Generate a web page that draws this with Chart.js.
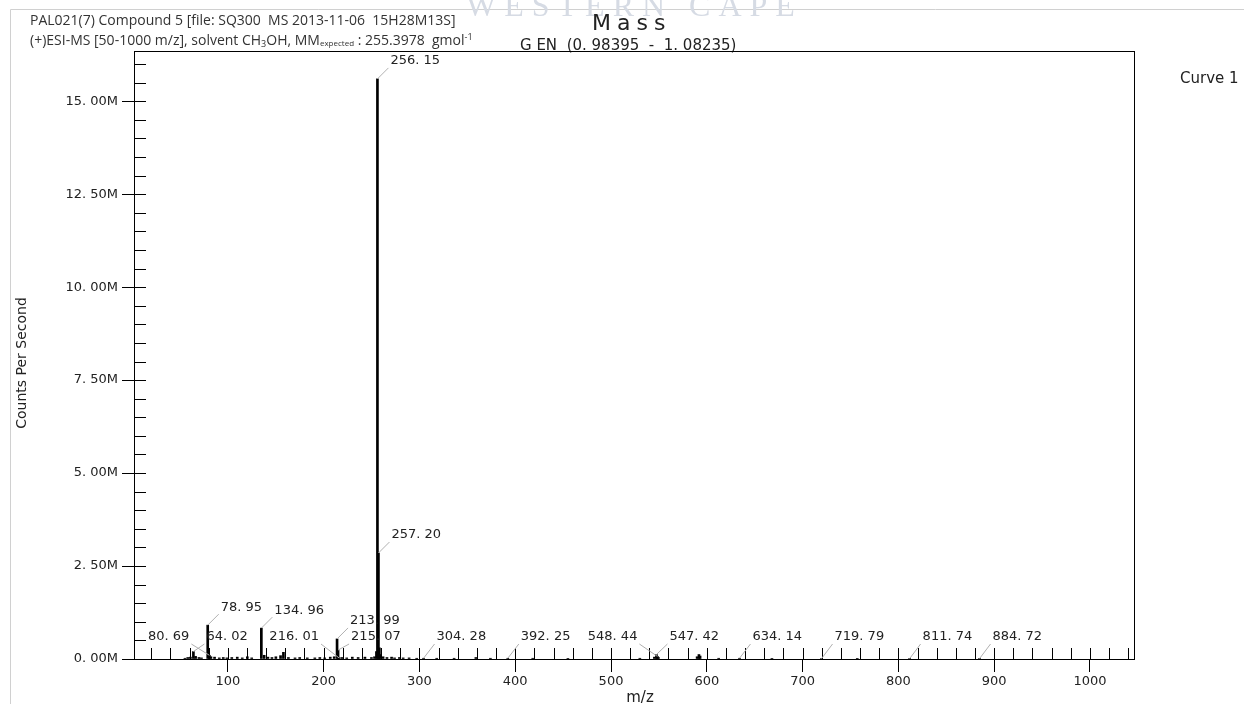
<!DOCTYPE html>
<html>
<head>
<meta charset="utf-8">
<script src="https://cdn.jsdelivr.net/npm/chart.js@4.4.1/dist/chart.umd.min.js"></script>
<style>
  html, body { margin: 0; padding: 0; background: #fff; }
  #wrap { width: 1244px; height: 704px; }
</style>
</head>
<body>
<div id="wrap"><canvas id="ms" width="1244" height="704"></canvas></div>
<script>
// labelled peaks: m/z and counts per second
const peakMz = [64.02, 78.95, 80.69, 134.96, 213.99, 215.07, 216.01, 256.15, 257.20, 304.28, 392.25, 547.42, 548.44, 634.14, 719.79, 811.74, 884.72];
const peakCounts = [0.20e6, 0.91e6, 0.10e6, 0.83e6, 0.54e6, 0.24e6, 0.03e6, 15.60e6, 2.85e6, 0.02e6, 0.02e6, 0.12e6, 0.07e6, 0.02e6, 0.01e6, 0.01e6, 0.01e6];
// which side of the peak the software put the label on
const labelSide = ['r', 'r', 'l', 'r', 'r', 'r', 'l', 'r', 'r', 'r', 'r', 'r', 'l', 'r', 'r', 'r', 'r'];

// small unlabelled lines near the baseline
const minorMz = [55.2, 58.1, 60.9, 66.3, 69.8, 72.4, 82.3, 86.1, 91.0, 95.2, 99.0, 104.1, 109.8, 115.0, 120.3, 124.9,
  137.9, 141.8, 146.0, 150.1, 155.0, 158.0, 163.2, 170.1, 175.0, 182.9, 190.8, 196.0, 201.1, 206.9, 211.0, 218.9,
  224.1, 229.9, 236.0, 243.1, 249.9, 253.1, 255.1, 258.2, 259.2, 262.0, 266.1, 270.9, 274.0, 279.1, 283.0, 289.2,
  297.1, 318.0, 336.2, 358.9, 374.1, 418.3, 455.0, 530.1, 545.3, 549.5, 589.9, 591.8, 593.0, 612.4, 668.0, 757.1];
const minorCounts = [0.02e6, 0.04e6, 0.05e6, 0.07e6, 0.04e6, 0.03e6, 0.06e6, 0.05e6, 0.03e6, 0.04e6, 0.03e6, 0.04e6, 0.05e6, 0.03e6, 0.06e6, 0.03e6,
  0.10e6, 0.05e6, 0.04e6, 0.06e6, 0.09e6, 0.18e6, 0.04e6, 0.03e6, 0.04e6, 0.03e6, 0.03e6, 0.04e6, 0.03e6, 0.05e6, 0.06e6, 0.04e6,
  0.03e6, 0.05e6, 0.04e6, 0.05e6, 0.04e6, 0.06e6, 0.20e6, 0.30e6, 0.12e6, 0.06e6, 0.04e6, 0.05e6, 0.03e6, 0.04e6, 0.03e6, 0.03e6,
  0.02e6, 0.02e6, 0.02e6, 0.04e6, 0.02e6, 0.02e6, 0.01e6, 0.02e6, 0.05e6, 0.04e6, 0.06e6, 0.12e6, 0.08e6, 0.02e6, 0.01e6, 0.01e6];

const xTickValues = [100, 200, 300, 400, 500, 600, 700, 800, 900, 1000];
const xTickLabels = ['100', '200', '300', '400', '500', '600', '700', '800', '900', '1000'];
const yTickValues = [0, 2.5e6, 5e6, 7.5e6, 10e6, 12.5e6, 15e6];
const yTickLabels = ['0. 00M', '2. 50M', '5. 00M', '7. 50M', '10. 00M', '12. 50M', '15. 00M'];

const FONT = 'DejaVu Sans';

const points = peakMz.map((x, i) => ({ x: x, y: peakCounts[i] }))
  .concat(minorMz.map((x, i) => ({ x: x, y: minorCounts[i] })))
  .sort((a, b) => a.x - b.x);

// draw a run of text pieces, some of them sub/superscript
function richText(ctx, x, y, parts) {
  parts.forEach(p => {
    ctx.font = (p.size || 14) + 'px "Open Sans"';
    ctx.fillText(p.t, x, y + (p.dy || 0));
    x += ctx.measureText(p.t).width;
  });
}

const decor = {
  id: 'decor',
  afterDraw(chart) {
    const ctx = chart.ctx;
    const area = chart.chartArea;
    const xs = chart.scales.x, ys = chart.scales.y;
    ctx.save();

    // page frame
    ctx.strokeStyle = '#d0d0d0';
    ctx.lineWidth = 1;
    ctx.beginPath();
    ctx.moveTo(10.5, 704); ctx.lineTo(10.5, 9.5); ctx.lineTo(1244, 9.5);
    ctx.stroke();

    // watermark
    ctx.fillStyle = '#d6dbe4';
    ctx.font = '32px "Liberation Serif"';
    ctx.letterSpacing = '8px';
    ctx.textBaseline = 'alphabetic';
    ctx.fillText('WESTERN CAPE', 466, 16);
    ctx.letterSpacing = '0px';

    // header
    ctx.fillStyle = '#333';
    richText(ctx, 30, 25, [{ t: 'PAL021(7) Compound 5 [file: SQ300  MS 2013-11-06  15H28M13S]' }]);
    richText(ctx, 30, 45, [
      { t: '(+)ESI-MS [50-1000 m/z], solvent CH' }, { t: '3', size: 9, dy: 2 },
      { t: 'OH, MM' }, { t: 'expected', size: 8, dy: 1 },
      { t: ' : 255.3978  gmol' }, { t: '-1', size: 9, dy: -5 }
    ]);

    // titles
    ctx.fillStyle = '#222';
    ctx.font = '22px ' + FONT;
    ctx.letterSpacing = '6px';
    ctx.fillText('Mass', 592, 30);
    ctx.letterSpacing = '0px';
    ctx.font = '15px ' + FONT;
    ctx.fillText('G EN  (0. 98395  -  1. 08235)', 520, 50);
    ctx.font = '15px ' + FONT;
    ctx.fillText('Curve 1', 1180, 83);
    ctx.textAlign = 'center';
    ctx.font = '15px ' + FONT;
    ctx.fillText('m/z', 640, 702);
    ctx.save();
    ctx.translate(26, 363);
    ctx.rotate(-Math.PI / 2);
    ctx.font = '14px ' + FONT;
    ctx.fillText('Counts Per Second', 0, 0);
    ctx.restore();
    ctx.textAlign = 'left';

    // plot box
    ctx.strokeStyle = '#000';
    ctx.strokeRect(area.left + 0.5, area.top + 0.5, area.right - area.left, area.bottom - area.top);

    // inward ticks
    ctx.beginPath();
    for (let v = 20; v <= xs.max; v += 20) {
      const px = Math.round(xs.getPixelForValue(v)) + 0.5;
      ctx.moveTo(px, area.bottom); ctx.lineTo(px, area.bottom - 11);
    }
    for (let v = 0.5e6; v <= ys.max; v += 0.5e6) {
      const py = Math.round(ys.getPixelForValue(v)) + 0.5;
      ctx.moveTo(area.left, py); ctx.lineTo(area.left + 12, py);
    }
    ctx.stroke();

    // peak labels with leader lines
    ctx.font = '13px ' + FONT;
    ctx.textBaseline = 'middle';
    peakMz.forEach((mz, i) => {
      const px = xs.getPixelForValue(mz);
      const py = ys.getPixelForValue(peakCounts[i]);
      const txt = mz.toFixed(2).replace('.', '. ');
      const w = ctx.measureText(txt).width;
      const cy = py > 645 ? 637 : py - 18;
      let lx, ax;
      if (labelSide[i] === 'r') { lx = px + 13; ax = lx - 2; }
      else { lx = px - 20 - w; ax = lx + w + 2; }
      ctx.strokeStyle = '#b0b0b0';
      ctx.beginPath();
      ctx.moveTo(px, py); ctx.lineTo(ax, cy + 7);
      ctx.stroke();
      ctx.fillStyle = '#222';
      ctx.fillText(txt, lx, cy);
    });
    ctx.restore();
  }
};

new Chart(document.getElementById('ms'), {
  type: 'bar',
  data: {
    datasets: [{
      label: 'Curve 1',
      data: points,
      backgroundColor: '#000',
      borderWidth: 0,
      barThickness: 2
    }]
  },
  options: {
    responsive: false,
    animation: false,
    devicePixelRatio: 1,
    layout: { padding: { left: 0, top: 51, right: 110, bottom: 0 } },
    plugins: { legend: { display: false }, tooltip: { enabled: false } },
    scales: {
      x: {
        type: 'linear',
        min: 2,
        max: 1046,
        offset: false,
        grid: { drawOnChartArea: false, drawTicks: true, tickLength: 13, color: '#000', offset: false },
        border: { display: true, color: '#000' },
        ticks: {
          font: { family: FONT, size: 13 },
          color: '#222',
          padding: 2,
          maxRotation: 0,
          autoSkip: false,
          callback: (v, i) => xTickLabels[i]
        },
        afterBuildTicks: s => { s.ticks = xTickValues.map(v => ({ value: v })); },
        afterFit: s => { s.height = 45; }
      },
      y: {
        min: 0,
        max: 16.35e6,
        grid: { drawOnChartArea: false, drawTicks: true, tickLength: 12, color: '#000' },
        border: { display: true, color: '#000' },
        ticks: {
          font: { family: FONT, size: 13 },
          color: '#222',
          padding: 4,
          autoSkip: false,
          callback: (v, i) => yTickLabels[i]
        },
        afterBuildTicks: s => { s.ticks = yTickValues.map(v => ({ value: v })); },
        afterFit: s => { s.width = 134; }
      }
    }
  },
  plugins: [decor]
});
</script>
</body>
</html>
